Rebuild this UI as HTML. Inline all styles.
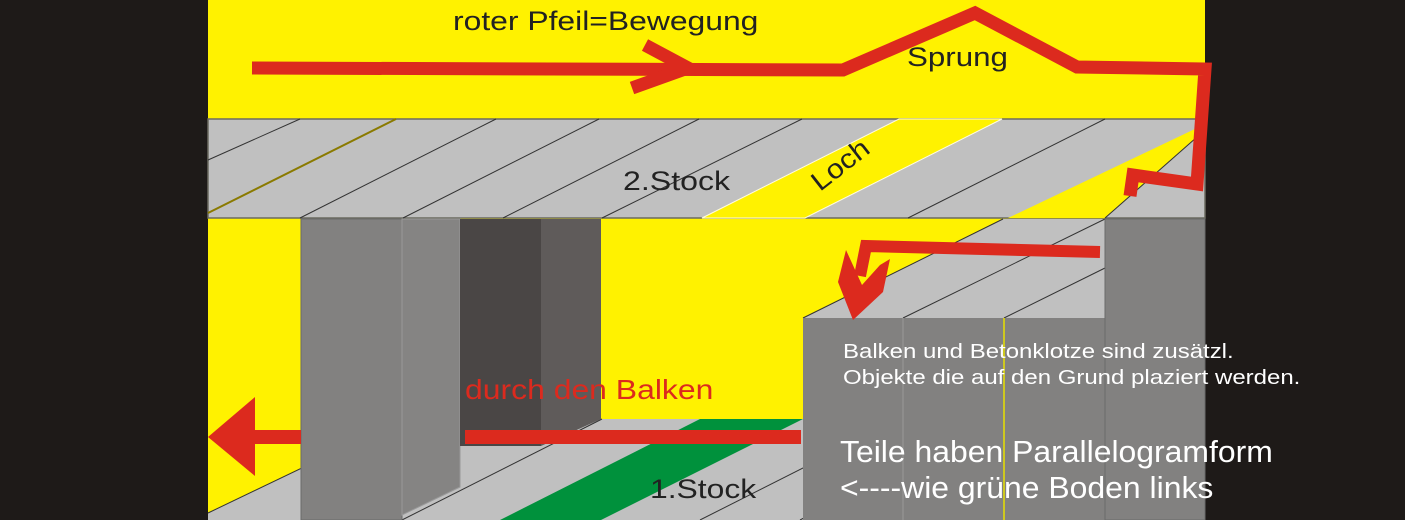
<!DOCTYPE html>
<html><head><meta charset="utf-8"><style>html,body{margin:0;padding:0;background:#1e1a18}svg{display:block}</style></head><body>
<svg width="1405" height="520" viewBox="0 0 1405 520" xmlns="http://www.w3.org/2000/svg" font-family="Liberation Sans, sans-serif">
<rect width="1405" height="520" fill="#1e1a18"/>
<rect x="208" y="0" width="997" height="520" fill="#fff200"/>
<!-- upper floor -->
<rect x="208" y="119" width="997" height="99" fill="#c0c0c0" stroke="#6b6b60" stroke-width="1.5"/>
<polygon points="702,218 805,218 1002,119 899,119" fill="#fff200" stroke="#fffbe0" stroke-width="1"/>
<polygon points="1008,218 1105,218 1197,137 1197,128" fill="#fff200"/>
<g stroke="#333" stroke-width="1">
<line x1="208" y1="160" x2="300" y2="119"/>
<line x1="208" y1="213" x2="396" y2="119" stroke="#8a7a00" stroke-width="2"/>
<line x1="300" y1="218" x2="496" y2="119"/>
<line x1="403" y1="218" x2="599" y2="119"/>
<line x1="503" y1="218" x2="699" y2="119"/>
<line x1="602" y1="218" x2="802" y2="119"/>
<line x1="908" y1="218" x2="1105" y2="119"/>
<line x1="1105" y1="218" x2="1197" y2="137"/>
</g>
<!-- lower floor -->
<polygon points="208,520 208,513 404,419 1205,419 1205,520" fill="#c0c0c0"/>
<polygon points="500,520 601,520 803,419 700,419" fill="#00913c"/>
<g stroke="#333" stroke-width="1">
<line x1="208" y1="513" x2="404" y2="419"/>
<line x1="402" y1="520" x2="602" y2="419"/>
<line x1="700" y1="520" x2="900" y2="419"/>
<line x1="800" y1="520" x2="1000" y2="419"/>
</g>
<!-- pillars -->
<rect x="301" y="219" width="101" height="301" fill="#828180" stroke="#6a6a6a" stroke-width="1"/>
<polygon points="402,219 460,219 460,487 402,515" fill="#858483" stroke="#999" stroke-width="1"/>
<rect x="460" y="219" width="81" height="227" fill="#4a4645"/>
<polygon points="541,219 601,219 601,419 541,446" fill="#5f5b5a"/>
<!-- beton block -->
<polygon points="803,318 1105,318 1105,219 1003,219" fill="#c0c0c0"/>
<g stroke="#333" stroke-width="1">
<line x1="803" y1="318" x2="1003" y2="219"/>
<line x1="903" y1="318" x2="1105" y2="219"/>
<line x1="1004" y1="318" x2="1105" y2="268"/>
</g>
<rect x="803" y="318" width="302" height="202" fill="#828180"/>
<line x1="903" y1="318" x2="903" y2="520" stroke="#999" stroke-width="1"/>
<line x1="1004" y1="318" x2="1004" y2="520" stroke="#e8e000" stroke-width="1.5"/>
<rect x="1105" y="219" width="100" height="301" fill="#828180" stroke="#6a6a6a" stroke-width="1"/>
<!-- red arrows -->
<g stroke="#dc2a1e" fill="none" stroke-width="13">
<polyline points="252,68 843,70 975,13 1077,67 1205,69 1197,184 1133,175 1130,196"/>
<polyline points="632,88 688,68 645,45"/>
<polyline points="1100,252 866,246 860,276" stroke-width="12"/>
<line x1="465" y1="437" x2="801" y2="437" stroke-width="14"/>
<line x1="250" y1="437" x2="301" y2="437" stroke-width="14"/>
</g>
<polygon points="846,250 862,285 880,265 890,259 883,292 853,320 838,282" fill="#dc2a1e"/>
<polygon points="208,437 255,397 255,476" fill="#dc2a1e"/>
<!-- text -->
<g fill="#222" font-size="27">
<text transform="translate(453,30) scale(1.18,1)">roter Pfeil=Bewegung</text>
<text transform="translate(907,66) scale(1.16,1)">Sprung</text>
<text transform="translate(623,190) scale(1.19,1)">2.Stock</text>
<text transform="translate(650,498) scale(1.18,1)">1.Stock</text>
<text transform="translate(820,192) rotate(-38) scale(1.12,1)">Loch</text>
</g>
<text transform="translate(465,399) scale(1.14,1)" fill="#dc2a1e" font-size="28">durch den Balken</text>
<g fill="#fff">
<text transform="translate(843,358) scale(1.2,1)" font-size="20">Balken und Betonklotze sind zusätzl.</text>
<text transform="translate(843,384) scale(1.2,1)" font-size="20">Objekte die auf den Grund plaziert werden.</text>
<text transform="translate(840,462) scale(1.03,1)" font-size="31">Teile haben Parallelogramform</text>
<text transform="translate(840,498) scale(1.03,1)" font-size="31">&lt;----wie grüne Boden links</text>
</g>
</svg>
</body></html>
